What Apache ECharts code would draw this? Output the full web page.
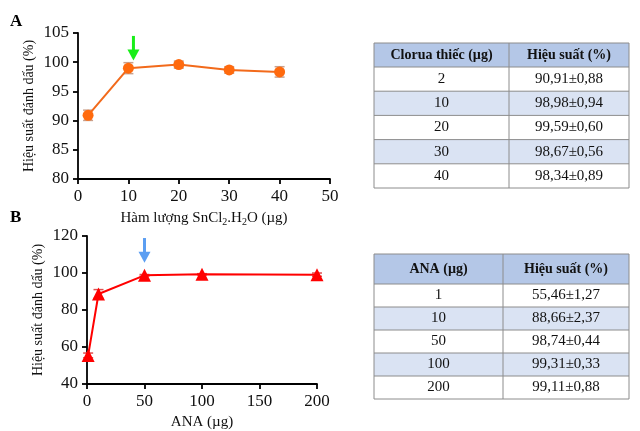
<!DOCTYPE html>
<html>
<head>
<meta charset="utf-8">
<script src="https://cdn.jsdelivr.net/npm/echarts@6/dist/echarts.min.js"></script>
<style>
  html, body { margin: 0; padding: 0; background: #fff; }
  #main { width: 640px; height: 431px; }
</style>
</head>
<body>
<div id="main"></div>
<script>
// panel A data
const doseA = [2, 10, 20, 30, 40];
const yieldA = [90.91, 98.98, 99.59, 98.67, 98.34];
const errA = [0.88, 0.94, 0.60, 0.56, 0.89];
const arrowA = [11, 104.5, 100.3];

// panel B data
const doseB = [1, 10, 50, 100, 200];
const yieldB = [55.46, 88.66, 98.74, 99.31, 99.11];
const errB = [1.27, 2.37, 0.44, 0.33, 0.88];
const arrowB = [50, 118.9, 105.6];

// tables
const headA = ['Clorua thiếc (µg)', 'Hiệu suất (%)'];
const colA1 = ['2', '10', '20', '30', '40'];
const colA2 = ['90,91±0,88', '98,98±0,94', '99,59±0,60', '98,67±0,56', '98,34±0,89'];
const headB = ['ANA (µg)', 'Hiệu suất (%)'];
const colB1 = ['1', '10', '50', '100', '200'];
const colB2 = ['55,46±1,27', '88,66±2,37', '98,74±0,44', '99,31±0,33', '99,11±0,88'];

const serif = '"Liberation Serif", "DejaVu Serif", serif';
const myChart = echarts.init(document.getElementById('main'));

function errorItem(color) {
  return function (params, api) {
    const x = api.value(0), y = api.value(1), e = api.value(2);
    const top = api.coord([x, y + e]);
    const bot = api.coord([x, y - e]);
    const w = 5;
    const st = { stroke: color, lineWidth: 1.5 };
    return {
      type: 'group',
      children: [
        { type: 'line', shape: { x1: top[0], y1: top[1], x2: bot[0], y2: bot[1] }, style: st },
        { type: 'line', shape: { x1: top[0] - w, y1: top[1], x2: top[0] + w, y2: top[1] }, style: st },
        { type: 'line', shape: { x1: bot[0] - w, y1: bot[1], x2: bot[0] + w, y2: bot[1] }, style: st }
      ]
    };
  };
}

function arrowItem(color) {
  return function (params, api) {
    const p1 = api.coord([api.value(0), api.value(1)]);
    const p2 = api.coord([api.value(0), api.value(2)]);
    const hl = 11, hw = 6;
    return {
      type: 'group',
      children: [
        { type: 'line', shape: { x1: p1[0], y1: p1[1], x2: p2[0], y2: p2[1] - hl + 1 },
          style: { stroke: color, lineWidth: 3 } },
        { type: 'polygon', shape: { points: [[p2[0] - hw, p2[1] - hl], [p2[0] + hw, p2[1] - hl], [p2[0], p2[1]]] },
          style: { fill: color } }
      ]
    };
  };
}

function buildTable(left, right, top, headH, rowH, divX, head, c1, c2) {
  const els = [];
  const n = c1.length;
  const width = right - left;
  els.push({ type: 'rect', shape: { x: left, y: top, width: width, height: headH }, style: { fill: '#b4c7e7' } });
  for (let i = 0; i < n; i++) {
    els.push({ type: 'rect', shape: { x: left, y: top + headH + i * rowH, width: width, height: rowH },
      style: { fill: i % 2 === 1 ? '#dae3f3' : '#ffffff' } });
  }
  const bottom = top + headH + n * rowH;
  const line = { stroke: '#8c8c8c', lineWidth: 1 };
  els.push({ type: 'line', shape: { x1: left, y1: top, x2: right, y2: top }, style: line });
  for (let i = 0; i <= n; i++) {
    const y = top + headH + i * rowH;
    els.push({ type: 'line', shape: { x1: left, y1: y, x2: right, y2: y }, style: line });
  }
  [left, divX, right].forEach(function (x) {
    els.push({ type: 'line', shape: { x1: x, y1: top, x2: x, y2: bottom }, style: line });
  });
  const cx1 = (left + divX) / 2, cx2 = (divX + right) / 2;
  els.push({ type: 'text', x: cx1, y: top + headH / 2,
    style: { text: head[0], font: 'bold 14px ' + serif, fill: '#111', align: 'center', verticalAlign: 'middle' } });
  els.push({ type: 'text', x: cx2, y: top + headH / 2,
    style: { text: head[1], font: 'bold 14px ' + serif, fill: '#111', align: 'center', verticalAlign: 'middle' } });
  for (let i = 0; i < n; i++) {
    const y = top + headH + (i + 0.5) * rowH;
    els.push({ type: 'text', x: cx1, y: y,
      style: { text: c1[i], font: '15px ' + serif, fill: '#111', align: 'center', verticalAlign: 'middle' } });
    els.push({ type: 'text', x: cx2, y: y,
      style: { text: c2[i], font: '15px ' + serif, fill: '#111', align: 'center', verticalAlign: 'middle' } });
  }
  return els;
}

const axisCommon = {
  axisLine: { lineStyle: { color: '#000', width: 1.8 } },
  axisTick: { show: true, length: 5, lineStyle: { color: '#000', width: 1.8 } },
  axisLabel: { color: '#111', fontFamily: serif, fontSize: 17, margin: 9 },
  splitLine: { show: false },
  nameTextStyle: { color: '#111', fontFamily: serif, fontSize: 15 }
};

const yName = { color: '#111', fontFamily: serif, fontSize: 14 };

const option = {
  animation: false,
  backgroundColor: '#fff',
  grid: [
    { left: 78, top: 33, width: 252, height: 146 },
    { left: 87, top: 236, width: 230, height: 148 }
  ],
  xAxis: [
    Object.assign({}, axisCommon, {
      gridIndex: 0, type: 'value', min: 0, max: 50, interval: 10,
      name: 'Hàm lượng SnCl{s|2}.H{s|2}O (µg)', nameLocation: 'middle', nameGap: 30,
      nameTextStyle: {
        color: '#111', fontFamily: serif, fontSize: 15,
        rich: { s: { fontFamily: serif, fontSize: 10, color: '#111', verticalAlign: 'bottom', padding: [8, 0, 0, 0] } }
      }
    }),
    Object.assign({}, axisCommon, {
      gridIndex: 1, type: 'value', min: 0, max: 200, interval: 50,
      name: 'ANA (µg)', nameLocation: 'middle', nameGap: 31
    })
  ],
  yAxis: [
    Object.assign({}, axisCommon, {
      gridIndex: 0, type: 'value', min: 80, max: 105, interval: 5,
      name: 'Hiệu suất đánh dấu (%)', nameLocation: 'middle', nameGap: 42, nameTextStyle: yName
    }),
    Object.assign({}, axisCommon, {
      gridIndex: 1, type: 'value', min: 40, max: 120, interval: 20,
      name: 'Hiệu suất đánh dấu (%)', nameLocation: 'middle', nameGap: 42, nameTextStyle: yName
    })
  ],
  graphic: [
    { type: 'text', left: 10, top: 13, style: { text: 'A', font: 'bold 17px ' + serif, fill: '#000' } },
    { type: 'text', left: 10, top: 209, style: { text: 'B', font: 'bold 17px ' + serif, fill: '#000' } }
  ].concat(
    buildTable(374, 629, 43, 24, 24.2, 509, headA, colA1, colA2),
    buildTable(374, 629, 254, 30, 23, 503, headB, colB1, colB2)
  ),
  series: [
    {
      type: 'custom', xAxisIndex: 0, yAxisIndex: 0,
      renderItem: errorItem('#c9a08c'),
      data: doseA.map(function (d, i) { return [d, yieldA[i], errA[i]]; }),
      z: 1
    },
    {
      type: 'line', xAxisIndex: 0, yAxisIndex: 0,
      symbol: 'circle', symbolSize: 11,
      lineStyle: { color: '#f26a1b', width: 2 },
      itemStyle: { color: '#ff6a0e' },
      data: doseA.map(function (d, i) { return [d, yieldA[i]]; }),
      z: 2
    },
    {
      type: 'custom', xAxisIndex: 0, yAxisIndex: 0,
      renderItem: arrowItem('#19ee19'),
      data: [arrowA],
      z: 3
    },
    {
      type: 'custom', xAxisIndex: 1, yAxisIndex: 1,
      renderItem: errorItem('#e05050'),
      data: doseB.map(function (d, i) { return [d, yieldB[i], errB[i]]; }),
      z: 1
    },
    {
      type: 'line', xAxisIndex: 1, yAxisIndex: 1,
      symbol: 'triangle', symbolSize: 13,
      lineStyle: { color: '#ff0000', width: 2 },
      itemStyle: { color: '#ff0000' },
      data: doseB.map(function (d, i) { return [d, yieldB[i]]; }),
      z: 2
    },
    {
      type: 'custom', xAxisIndex: 1, yAxisIndex: 1,
      renderItem: arrowItem('#5b9ef2'),
      data: [arrowB],
      z: 3
    }
  ]
};

option && myChart.setOption(option);
</script>
</body>
</html>
